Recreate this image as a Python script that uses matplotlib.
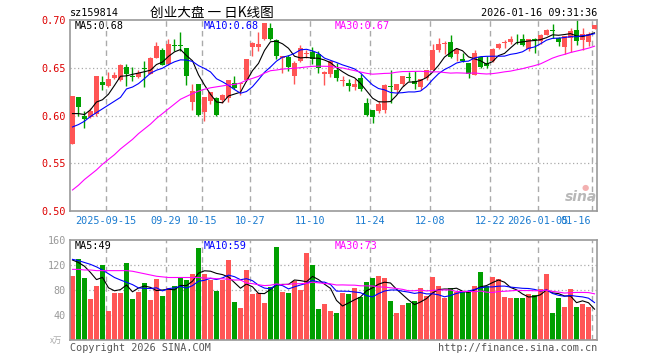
import numpy as np
import pandas as pd
import matplotlib
matplotlib.use("Agg")
import matplotlib.pyplot as plt

# ---- data (88 trading days, 2025-09-05 .. 2026-01-16) ----
opens = [0.5705, 0.619, 0.599, 0.598, 0.602, 0.6346, 0.631, 0.6395, 0.637, 0.6507,
         0.641, 0.640, 0.650, 0.6437, 0.6605, 0.669, 0.654, 0.6735, 0.6735, 0.671,
         0.6143, 0.6325, 0.6038, 0.6157, 0.618, 0.616, 0.618, 0.634, 0.6335, 0.637,
         0.672, 0.672, 0.6797, 0.692, 0.6787, 0.6605, 0.661, 0.641, 0.657, 0.6645,
         0.6668, 0.664, 0.643, 0.6437, 0.648, 0.636, 0.634, 0.6297, 0.639, 0.613,
         0.606, 0.6045, 0.606, 0.6312, 0.627, 0.6325, 0.640, 0.636, 0.6297, 0.6388,
         0.648, 0.669, 0.675, 0.677, 0.664, 0.6595, 0.655, 0.6423, 0.661, 0.655,
         0.657, 0.671, 0.6755, 0.6773, 0.680, 0.680, 0.670, 0.680, 0.678, 0.6843,
         0.6895, 0.6808, 0.6717, 0.6815, 0.690, 0.6787, 0.6773, 0.6902]
highs = [0.620, 0.6195, 0.6045, 0.608, 0.641, 0.641, 0.646, 0.646, 0.6535, 0.654,
         0.651, 0.648, 0.657, 0.661, 0.677, 0.671, 0.680, 0.680, 0.687, 0.671,
         0.633, 0.6325, 0.619, 0.6245, 0.619, 0.623, 0.6367, 0.641, 0.6345, 0.659,
         0.677, 0.687, 0.697, 0.697, 0.680, 0.6625, 0.663, 0.657, 0.674, 0.669,
         0.672, 0.6675, 0.6462, 0.657, 0.655, 0.641, 0.638, 0.638, 0.643, 0.6185,
         0.606, 0.615, 0.6325, 0.648, 0.633, 0.641, 0.646, 0.647, 0.6378, 0.648,
         0.6745, 0.681, 0.678, 0.684, 0.671, 0.6657, 0.655, 0.669, 0.662, 0.662,
         0.671, 0.676, 0.679, 0.683, 0.6857, 0.6857, 0.6797, 0.681, 0.685, 0.691,
         0.696, 0.682, 0.6833, 0.692, 0.6997, 0.692, 0.687, 0.6945]
lows = [0.5705, 0.600, 0.587, 0.597, 0.600, 0.627, 0.630, 0.638, 0.636, 0.631,
        0.636, 0.639, 0.630, 0.643, 0.660, 0.6528, 0.653, 0.6675, 0.668, 0.632,
        0.606, 0.599, 0.5947, 0.612, 0.600, 0.613, 0.614, 0.628, 0.621, 0.636,
        0.662, 0.6675, 0.679, 0.679, 0.6587, 0.6447, 0.647, 0.6335, 0.656, 0.6605,
        0.6535, 0.645, 0.632, 0.640, 0.636, 0.631, 0.6255, 0.627, 0.626, 0.599,
        0.592, 0.603, 0.603, 0.613, 0.624, 0.631, 0.636, 0.628, 0.627, 0.6375,
        0.648, 0.666, 0.664, 0.6605, 0.657, 0.6565, 0.639, 0.642, 0.650, 0.650,
        0.6565, 0.670, 0.671, 0.675, 0.675, 0.6727, 0.6675, 0.6657, 0.6745, 0.684,
        0.6815, 0.6727, 0.6647, 0.6668, 0.6738, 0.669, 0.6727, 0.6902]
closes = [0.620, 0.609, 0.596, 0.6045, 0.641, 0.632, 0.638, 0.642, 0.6525, 0.643,
          0.640, 0.6447, 0.649, 0.6605, 0.6727, 0.6528, 0.6745, 0.6725, 0.673, 0.641,
          0.6255, 0.601, 0.619, 0.6245, 0.601, 0.621, 0.6367, 0.629, 0.6345, 0.659,
          0.676, 0.6745, 0.6965, 0.680, 0.6622, 0.6622, 0.651, 0.655, 0.671, 0.665,
          0.6587, 0.650, 0.6458, 0.657, 0.6395, 0.637, 0.631, 0.633, 0.628, 0.601,
          0.598, 0.612, 0.632, 0.630, 0.633, 0.641, 0.639, 0.6325, 0.6378, 0.648,
          0.669, 0.675, 0.676, 0.661, 0.670, 0.657, 0.643, 0.6657, 0.651, 0.652,
          0.670, 0.675, 0.677, 0.6797, 0.6797, 0.674, 0.6797, 0.6795, 0.6843, 0.690,
          0.689, 0.6773, 0.6833, 0.689, 0.678, 0.6857, 0.6857, 0.6945]
# volume, unit 万
volumes = [102.4, 129.6, 99.2, 65.6, 86.4, 120, 46.4, 75.2, 75.2, 123.2,
           65.6, 76.8, 91.2, 64, 97.6, 70.4, 83.2, 86.4, 99.2, 96,
           105.6, 147.2, 105.6, 96, 78.4, 96, 128, 60.8, 51.2, 112,
           73.6, 75.2, 59.2, 84.8, 148.8, 76.8, 75.2, 94.4, 80, 139.2,
           120, 49.6, 57.6, 46.4, 43.2, 75.2, 73.6, 83.2, 68.8, 92.8,
           99.2, 102.4, 99.2, 62.4, 43.2, 56, 59.2, 62.4, 83.2, 70.4,
           100.8, 86.4, 67.2, 83.2, 76.8, 76.8, 76.8, 86.4, 108.8, 86.4,
           100.8, 97.6, 68.8, 67.2, 67.2, 67.2, 73.6, 72, 82, 106,
           43.2, 68, 52.8, 82, 52.8, 57.6, 52.8, 1.6]

# moving-average values at the left edge (need days before the window)
ma5_head = [0.602, 0.602, 0.601, 0.606]
ma10_head = [0.588, 0.5905, 0.594, 0.599, 0.603, 0.607, 0.611, 0.615, 0.619]
ma30_head = [0.522, 0.527, 0.533, 0.538, 0.543, 0.549, 0.554, 0.559, 0.565, 0.570,
             0.575, 0.581, 0.586, 0.591, 0.597, 0.602, 0.607, 0.612, 0.617, 0.620,
             0.623, 0.6255, 0.6275, 0.629, 0.630, 0.631, 0.632, 0.6325, 0.634]
vma5_head = [128, 124, 118, 108]
vma10_head = [129, 127, 124, 121, 117, 112, 106, 100, 96]
vma30_head = [113, 113, 112, 112, 111, 111, 111, 111, 111, 111,
              110, 108, 106, 104, 102, 101, 100, 100, 100, 100,
              100, 100, 99, 99, 98, 98, 97, 96, 96]

tick_idx = [6, 16, 22, 30, 40, 50, 60, 70, 78, 87]
tick_labels = ['2025-09-15', '09-29', '10-15', '10-27', '11-10', '11-24',
               '12-08', '12-22', '2026-01-05', '01-16']


def moving(values, n, head):
    m = pd.Series(values).rolling(n).mean().to_numpy()
    m[:len(head)] = head
    return m


def trunc(v, nd):
    f = 10 ** nd
    return np.floor(v * f + 1e-9) / f


o = np.array(opens); h = np.array(highs); l = np.array(lows); c = np.array(closes)
vol = np.array(volumes)
n = len(c)
x = np.arange(n)
up = c >= o
RED, GREEN = '#ff5555', '#009f00'
cols = np.where(up, RED, GREEN)

ma5 = moving(c, 5, ma5_head)
ma10 = moving(c, 10, ma10_head)
ma30 = moving(c, 30, ma30_head)
vma5 = moving(vol, 5, vma5_head)
vma10 = moving(vol, 10, vma10_head)
vma30 = moving(vol, 30, vma30_head)

mono = 'DejaVu Sans Mono'
cjk = ['Noto Sans CJK SC', 'DejaVu Sans']
W, H = 660, 360


def rect(l_, t_, r_, b_):
    return [l_ / W, 1 - b_ / H, (r_ - l_) / W, (b_ - t_) / H]


def fpos(px, py):
    return px / W, 1 - py / H


fig = plt.figure(figsize=(6.6, 3.6), dpi=100)
ax = fig.add_axes(rect(70, 20, 597, 211))
axv = fig.add_axes(rect(70, 240, 597, 340))

bw = 0.83
xc = x + bw / 2
gridc = '#aaaaaa'
for a in (ax, axv):
    for s in a.spines.values():
        s.set_color('#999999')
        s.set_linewidth(1.2)
    a.set_xlim(0, 87.83)
    a.set_xticks([])
    for t in tick_idx:
        a.axvline(t, color=gridc, lw=1, ls=(0, (4, 3)), zorder=0)
    a.tick_params(axis='y', length=0, pad=3)

# price panel
ax.set_ylim(0.50, 0.70)
for g in (0.55, 0.60, 0.65):
    ax.axhline(g, color=gridc, lw=0.9, ls=(0, (1, 2)), zorder=0)
ax.vlines(xc, l, h, colors=cols, lw=1, zorder=2)
body = np.maximum(np.abs(c - o), 0.0007)
ax.bar(x, body, bottom=np.minimum(o, c), width=bw, align='edge', color=cols, zorder=3, lw=0)
ax.plot(xc, ma5, color='black', lw=0.8, zorder=4)
ax.plot(xc, ma10, color='#0000ff', lw=0.8, zorder=4)
ax.plot(xc, ma30, color='#ff00ff', lw=0.8, zorder=4)
ax.set_yticks([0.50, 0.55, 0.60, 0.65, 0.70])
ax.set_yticklabels(['0.50', '0.55', '0.60', '0.65', '0.70'], color='#dd0000',
                   family=mono, fontsize=7.3)

# volume panel
axv.set_ylim(0, 160)
for g in (40, 80, 120):
    axv.axhline(g, color=gridc, lw=0.9, ls=(0, (1, 2)), zorder=0)
axv.bar(x, vol, width=bw, align='edge', color=cols, lw=0, zorder=2)
axv.plot(xc, vma5, color='black', lw=0.8, zorder=3)
axv.plot(xc, vma10, color='#0000ff', lw=0.8, zorder=3)
axv.plot(xc, vma30, color='#ff00ff', lw=0.8, zorder=3)
axv.set_yticks([40, 80, 120, 160])
axv.set_yticklabels(['40', '80', '120', '160'], color='#999999', family=mono, fontsize=7.3)

# date labels
for i, t in zip(tick_idx, tick_labels):
    px = 70 + 6 * i
    ha = 'center'
    if i == tick_idx[-1]:
        px, ha = 591, 'right'
    fig.text(*fpos(px, 221), t, ha=ha, va='center', color='#1a7bd0', family=mono, fontsize=7.3)

# header texts
fig.text(*fpos(70, 13), 'sz159814', ha='left', va='center', family=mono, fontsize=7.3)
fig.text(*fpos(150, 13), '创业大盘 一 日K线图', ha='left', va='center', family=cjk, fontsize=9.8)
fig.text(*fpos(597, 13), '2026-01-16 09:31:36', ha='right', va='center', family=mono, fontsize=7.3)

fig.text(*fpos(75, 26), 'MA5:%.2f' % trunc(ma5[-1], 2), ha='left', va='center', family=mono, fontsize=7.3)
fig.text(*fpos(204, 26), 'MA10:%.2f' % trunc(ma10[-1], 2), ha='left', va='center', color='#0000ff', family=mono, fontsize=7.3)
fig.text(*fpos(335, 26), 'MA30:%.2f' % trunc(ma30[-1], 2), ha='left', va='center', color='#ff00ff', family=mono, fontsize=7.3)

fig.text(*fpos(75, 246), 'MA5:%d' % int(vma5[-1]), ha='left', va='center', family=mono, fontsize=7.3)
fig.text(*fpos(204, 246), 'MA10:%d' % int(vma10[-1]), ha='left', va='center', color='#0000ff', family=mono, fontsize=7.3)
fig.text(*fpos(335, 246), 'MA30:%d' % int(vma30[-1]), ha='left', va='center', color='#ff00ff', family=mono, fontsize=7.3)

# footer and watermark
fig.text(*fpos(62, 340), 'x万', ha='right', va='center', color='#aaaaaa', family=cjk, fontsize=6)
fig.text(*fpos(70, 348), 'Copyright 2026 SINA.COM', ha='left', va='center', color='#555555', family=mono, fontsize=7.3)
fig.text(*fpos(597, 348), 'http://finance.sina.com.cn', ha='right', va='center', color='#555555', family=mono, fontsize=7.3)
fig.text(*fpos(581, 197), 'sina', ha='center', va='center', color='#b8b8b8', fontsize=10,
         style='italic', weight='bold', family='DejaVu Sans')
fig.text(*fpos(585, 187), '●', ha='center', va='center', color='#f3b0b0', fontsize=6)

fig.savefig('out.png', dpi=100)
